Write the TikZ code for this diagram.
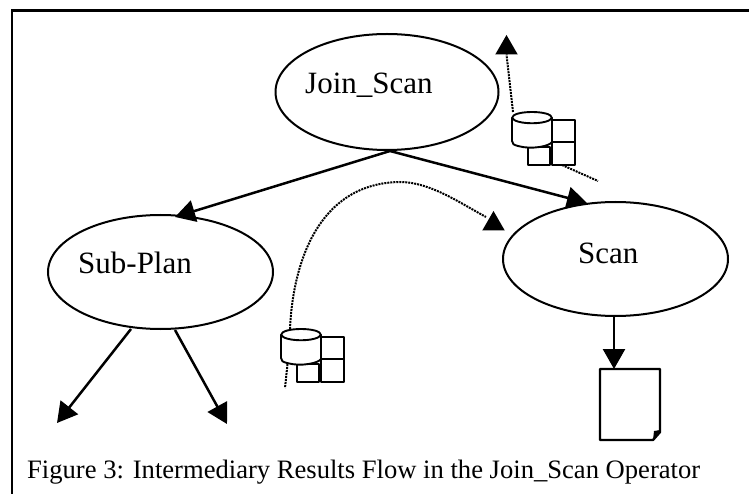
\documentclass[tikz,border=0pt]{standalone}
\usepackage{fontspec}
\setmainfont{Liberation Serif}
\usetikzlibrary{arrows.meta,shapes.geometric}
\tikzset{
  x=1pt,y=-1pt,
  oval/.style={ellipse,draw=black,line width=2pt,inner sep=0pt,outer sep=0pt},
  lbl/.style={inner sep=0pt,anchor=base west,font=\fontsize{31}{36}\selectfont},
  flow/.style={draw=black,line width=2.5pt,-{Triangle[length=20pt,width=22pt]}},
  dots/.style={draw=black,line width=2pt,dash pattern=on 2pt off 1pt},
  dothead/.style={regular polygon,regular polygon sides=3,fill=black,inner sep=0pt,minimum size=26pt,outer sep=0pt},
  store/.style={draw=black,line width=1.9pt,line join=round}
}
\newcommand{\storeicon}[2]{%
  \begin{scope}[shift={(#1,#2)}]
    \draw[store] (40,8) rectangle (63,30);
    \draw[store] (40,30) rectangle (63,53);
    \draw[store] (16,35) rectangle (38,53);
    \draw[store,fill=white] (0,6) .. controls (0,-2) and (40,-2) .. (40,6) -- (40,30) .. controls (38,34) and (20,38) .. (6,34) .. controls (2,33) and (0,32) .. (0,29) -- cycle;
    \draw[store] (0,6) .. controls (4,13) and (36,13) .. (40,6);
  \end{scope}}
\begin{document}
\begin{tikzpicture}
\useasboundingbox (0,0) rectangle (749,494);
\fill[white] (0,0) rectangle (749,494);
\draw[black,line width=2.8pt] (12,494) -- (12,10.5) -- (749,10.5);
\node[oval,minimum width=223pt,minimum height=116pt] (join) at (387,92) {};
\node[oval,minimum width=225pt,minimum height=114pt] (sub) at (160.5,272) {};
\node[oval,minimum width=225pt,minimum height=114pt] (scan) at (615.5,259) {};
\node[lbl] (joinl) at (305,94) {Join\_Scan};
\node[lbl] (subl) at (78,273) {Sub-Plan};
\node[lbl] (scanl) at (578,263) {Scan};
\coordinate (fork) at (390,151);
\coordinate (subL) at (131,329);
\coordinate (subR) at (175,330);
\coordinate (outL) at (57,423);
\coordinate (outR) at (227,424);
\coordinate (scanB) at (614,316);
\coordinate (toSub) at (175,217);
\coordinate (toScan) at (587,203);
\draw[flow] (fork) -- (toSub);
\draw[flow] (fork) -- (toScan);
\draw[flow] (subL) -- (outL);
\draw[flow] (subR) -- (outR);
\node[inner sep=0pt,outer sep=0pt,minimum width=60pt,minimum height=71pt] (doc) at (630,404.5) {};
\draw[flow] (scanB) -- (doc.north -| scanB);
\draw[draw=black,line width=2.4pt,line join=round] (doc.north west) -- (doc.north east) -- (660,432) -- (653,440) -- (doc.south west) -- cycle;
\fill[black] (660,430) -- (653,440) -- (654,431) -- cycle;
\storeicon{512}{112}
\storeicon{281}{329}
\node[dothead] (headA) at (506.5,48) {};
\node[dothead] (headB) at (493.5,224) {};
\coordinate (cylA) at (513,112);
\coordinate (tailA) at (598,181);
\coordinate (gridA) at (562,165);
\coordinate (cylB) at (290,329);
\coordinate (footB) at (285,388);
\coordinate (cylBb) at (287.5,364);
\draw[dots] (cylA) -- (headA.south);
\draw[dots] (gridA) -- (tailA);
\draw[dots] (cylB) .. controls (293,260) and (320,183) .. (400,182) .. controls (430,182) and (460,203) .. (486,217);
\draw[dots] (cylBb) -- (footB);
\node[lbl,font=\fontsize{26.6}{30}\selectfont] (cap) at (27,478.5) {Figure 3: Intermediary Results Flow in the Join\_Scan Operator};
\end{tikzpicture}
\end{document}
